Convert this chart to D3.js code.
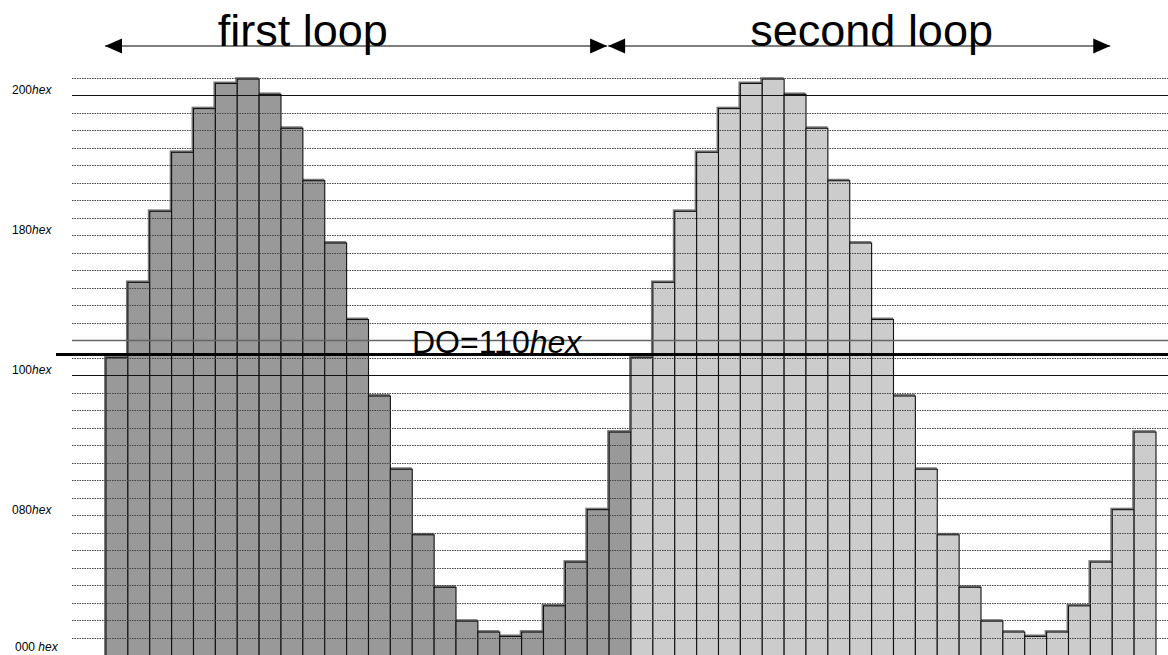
<!DOCTYPE html>
<html>
<head>
<meta charset="utf-8">
<script src="https://cdn.jsdelivr.net/npm/d3@7"></script>
<style>
body { margin: 0; background: #fff; }
text { font-family: "Liberation Sans", Arial, sans-serif; fill: #000; }
</style>
</head>
<body>
<div class="canvas"></div>
<script>
// one period of the output samples (decimal)
const samples = [272, 341, 406, 460, 500, 523, 527, 513, 482, 434, 377, 307,
                 237, 170, 110, 62, 31, 21, 17, 21, 45, 85, 133, 204];
const loops = ['first loop', 'second loop'];
const loopFills = ['#999999', '#cccccc'];
const tickValues = [0x000, 0x080, 0x100, 0x180, 0x200];
const tickLabels = ['000', '080', '100', '180', '200'];
const solidLevels = [0x100, 0x120, 0x200];
const doLevel = 0x113;
const doLabel = 'DO=110';

// dimensions.
const svgDimensions = { width: 1168, height: 655 };
const plot = { left: 72, right: 1168, barLeft: 106, barRight: 1156, top: 78, bottom: 655 };

const svg = d3.select('.canvas')
    .append('svg')
        .attr('width', svgDimensions.width)
        .attr('height', svgDimensions.height);

const bars = loops.flatMap((loop, li) =>
    samples.map((value, i) => ({ loop: li, index: li * samples.length + i, value })));

const x = d3.scaleBand()
    .domain(bars.map(d => d.index))
    .range([plot.barLeft, plot.barRight])
    .padding(0);

const y = d3.scaleLinear()
    .domain([0, 0x210])
    .range([plot.bottom, plot.top]);

// bars: grey shadow outline under a black outline
const barGroup = svg.append('g');

barGroup.selectAll('rect.shadow')
    .data(bars)
    .enter().append('rect')
        .attr('class', 'shadow')
        .attr('x', d => x(d.index) - 1.2)
        .attr('y', d => y(d.value) - 1.2)
        .attr('width', x.bandwidth())
        .attr('height', d => plot.bottom - y(d.value) + 2)
        .attr('fill', d => loopFills[d.loop])
        .attr('stroke', '#777')
        .attr('stroke-width', 1.5);

barGroup.selectAll('rect.bar')
    .data(bars)
    .enter().append('rect')
        .attr('class', 'bar')
        .attr('x', d => x(d.index))
        .attr('y', d => y(d.value))
        .attr('width', x.bandwidth())
        .attr('height', d => plot.bottom - y(d.value) + 2)
        .attr('fill', d => loopFills[d.loop])
        .attr('stroke', '#111')
        .attr('stroke-width', 1.1);

// grid lines on top of the bars
const levels = d3.range(0, 0x210 + 1, 0x10);
const grid = svg.append('g');

grid.selectAll('line.dot')
    .data(levels.filter(v => !solidLevels.includes(v)))
    .enter().append('line')
        .attr('class', 'dot')
        .attr('x1', plot.left)
        .attr('x2', plot.right)
        .attr('y1', d => Math.round(y(d)) + 0.5)
        .attr('y2', d => Math.round(y(d)) + 0.5)
        .attr('stroke', '#444')
        .attr('stroke-width', 1)
        .attr('stroke-dasharray', '1.5,1');

grid.selectAll('line.solid')
    .data(solidLevels)
    .enter().append('line')
        .attr('class', 'solid')
        .attr('x1', plot.left)
        .attr('x2', plot.right)
        .attr('y1', d => Math.round(y(d)) + 0.5)
        .attr('y2', d => Math.round(y(d)) + 0.5)
        .attr('stroke', d => d % 0x100 === 0 ? '#111' : '#666')
        .attr('stroke-width', d => d % 0x100 === 0 ? 1.2 : 1.6);

// DO level
svg.append('line')
    .attr('x1', 56)
    .attr('x2', plot.right)
    .attr('y1', y(doLevel))
    .attr('y2', y(doLevel))
    .attr('stroke', '#000')
    .attr('stroke-width', 3);

const doText = svg.append('text')
    .attr('x', 412)
    .attr('y', y(doLevel) - 1)
    .attr('font-size', 32);
doText.append('tspan').text(doLabel);
doText.append('tspan').attr('font-style', 'italic').text('hex');

// y labels
const yLabels = svg.append('g');
tickValues.forEach((v, i) => {
    const t = yLabels.append('text')
        .attr('x', v === 0 ? 15 : 12)
        .attr('y', Math.min(y(v) - 1, 651))
        .attr('font-size', 12);
    t.append('tspan').text(tickLabels[i] + (v === 0 ? ' ' : ''));
    t.append('tspan').attr('font-style', 'italic').text('hex');
});

// loop arrows
const arrowY = 46;
const arrowSpan = samples.length - 1;
const head = (tipX, dir) => {
    const len = 17, half = 7.5;
    return `M${tipX},${arrowY} L${tipX - dir * len},${arrowY - half} L${tipX - dir * len},${arrowY + half} Z`;
};
const labelOffsets = [9, 12];

loops.forEach((loop, li) => {
    const x1 = x(li * arrowSpan) - 1;
    const x2 = x((li + 1) * arrowSpan) - 2;
    svg.append('line')
        .attr('x1', x1).attr('x2', x2)
        .attr('y1', arrowY).attr('y2', arrowY)
        .attr('stroke', '#000')
        .attr('stroke-width', 1.2);
    svg.append('path').attr('d', head(x1, -1)).attr('fill', '#000');
    svg.append('path').attr('d', head(x2, 1)).attr('fill', '#000');
    svg.append('text')
        .attr('x', x(li * arrowSpan + labelOffsets[li]))
        .attr('y', arrowY)
        .attr('text-anchor', 'middle')
        .attr('font-size', 45)
        .text(loop);
});
</script>
</body>
</html>
